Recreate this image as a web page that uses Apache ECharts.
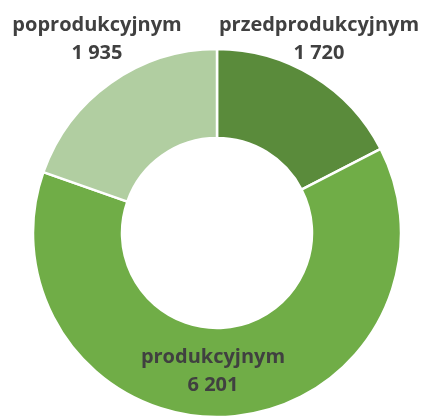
<!DOCTYPE html>
<html>
<head>
<meta charset="utf-8">
<script src="https://cdn.jsdelivr.net/npm/echarts@6/dist/echarts.min.js"></script>
<style>
html,body{margin:0;padding:0;background:#fff;}
#c{width:421px;height:419px;}
</style>
</head>
<body>
<div id="c"></div>
<script>
const categories = ['przedprodukcyjnym', 'produkcyjnym', 'poprodukcyjnym'];
const values = [1720, 6201, 1935];
const valueLabels = ['1 720', '6 201', '1 935'];
const colors = ['#5A8B3B', '#70AD47', '#B1CEA1'];
const labelPos = [[319, 39], [213, 371], [97, 39]];

const chart = echarts.init(document.getElementById('c'), null, {renderer: 'canvas'});
chart.setOption({
  animation: false,
  series: [{
    type: 'pie',
    center: [217, 233],
    radius: [95, 184],
    startAngle: 90,
    clockwise: true,
    avoidLabelOverlap: false,
    itemStyle: {borderColor: '#ffffff', borderWidth: 2.5},
    label: {
      show: true,
      position: 'inside',
      formatter: p => p.name + '\n' + valueLabels[p.dataIndex],
      fontFamily: 'Open Sans',
      fontWeight: 'bold',
      fontSize: 20,
      lineHeight: 28,
      color: '#404040',
      align: 'center'
    },
    labelLine: {show: false},
    labelLayout: p => ({x: labelPos[p.dataIndex][0], y: labelPos[p.dataIndex][1], align: 'center', verticalAlign: 'middle'}),
    emphasis: {disabled: true},
    data: categories.map((c, i) => ({name: c, value: values[i], itemStyle: {color: colors[i]}}))
  }]
});
</script>
</body>
</html>
